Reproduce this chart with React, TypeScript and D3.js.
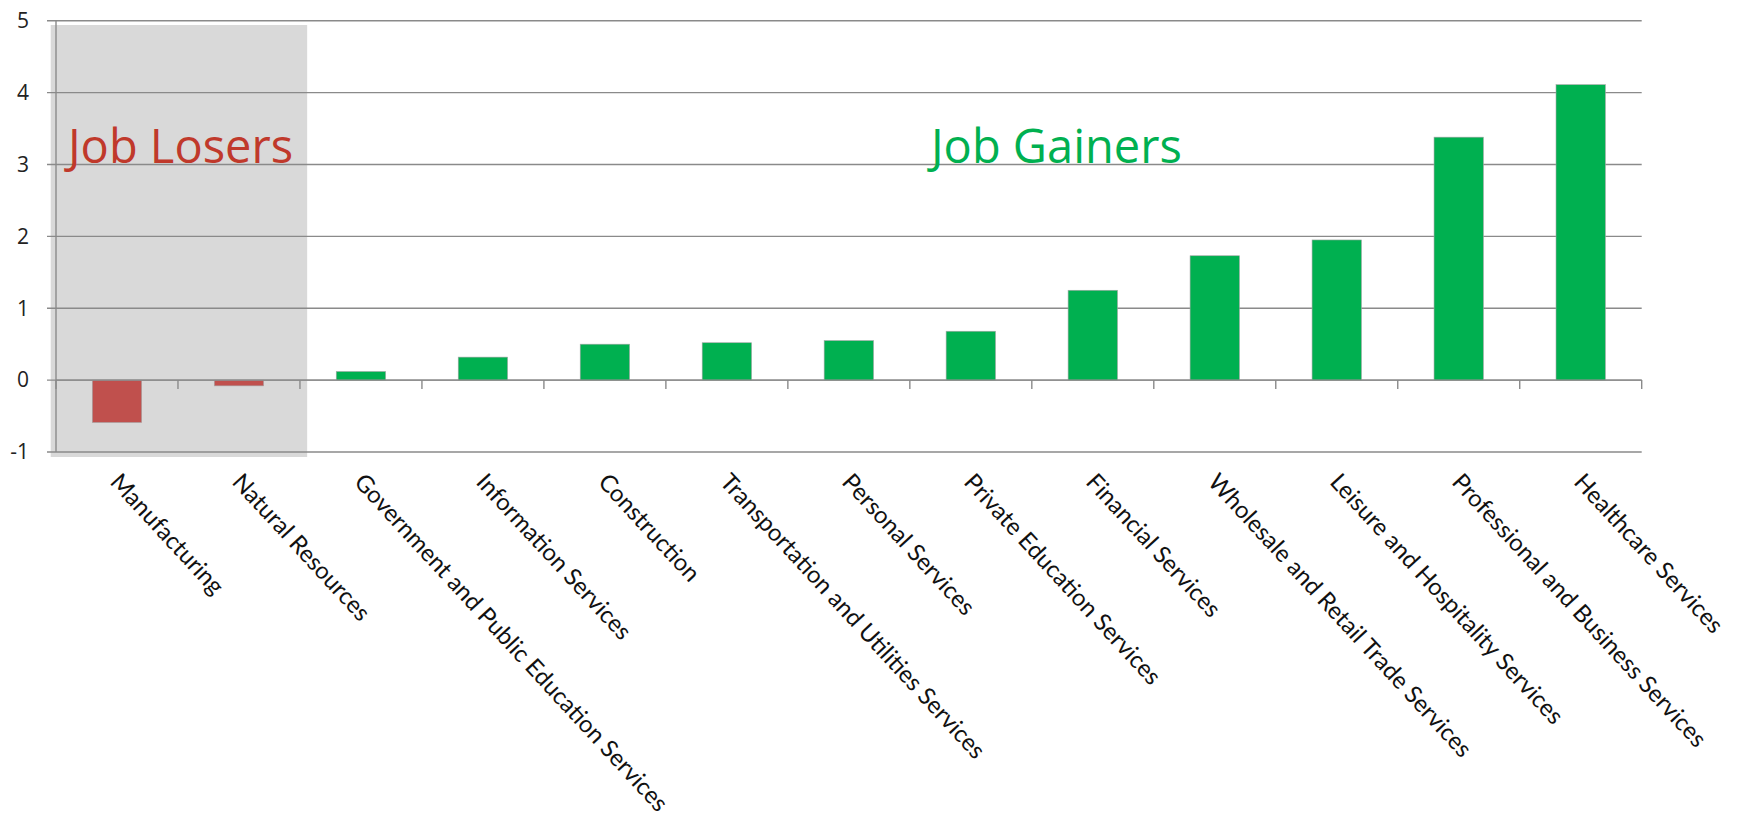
import React from "react";
import * as d3 from "d3";

const categories: string[] = [
  "Manufacturing",
  "Natural Resources",
  "Government and Public Education Services",
  "Information Services",
  "Construction",
  "Transportation and Utilities Services",
  "Personal Services",
  "Private Education Services",
  "Financial Services",
  "Wholesale and Retail Trade Services",
  "Leisure and Hospitality Services",
  "Professional and Business Services",
  "Healthcare Services",
];

const values: number[] = [-0.59, -0.08, 0.12, 0.32, 0.5, 0.52, 0.55, 0.68, 1.25, 1.73, 1.95, 3.38, 4.11];

const yTicks: number[] = [-1, 0, 1, 2, 3, 4, 5];

const W = 1740;
const H = 822;
const left = 56;
const right = 1641.7;
const yTop = 20.7;
const yBottom = 452;

export default function App() {
  const x = d3.scaleBand<string>().domain(categories).range([left, right]).padding(0);
  const y = d3.scaleLinear().domain([-1, 5]).range([yBottom, yTop]);
  const step = x.step();
  const barW = step * 0.405;
  const grid = "#8a8a8a";
  const font = "'Open Sans', 'DejaVu Sans', sans-serif";

  const losersEnd = x(categories[1])! + step;

  return (
    <svg
      width={W}
      height={H}
      style={{ position: "absolute", left: 0, top: 0, background: "#fff" }}
      fontFamily={font}
    >
      <rect x={left - 5.3} y={25} width={losersEnd - left + 12.5} height={457 - 25} fill="#d9d9d9" />

      {yTicks.map((t) => (
        <line key={"g" + t} x1={left - 9} x2={right} y1={y(t)} y2={y(t)} stroke={grid} strokeWidth={1.4} />
      ))}
      {yTicks.map((t) => (
        <text key={"yl" + t} x={29} y={y(t)} dy="0.35em" textAnchor="end" fontSize={21} fill="#222">
          {t}
        </text>
      ))}
      <line x1={left} x2={left} y1={yTop} y2={yBottom} stroke={grid} strokeWidth={1.4} />

      {categories.map((c, i) => {
        const v = values[i];
        const cx = x(c)! + step / 2;
        return (
          <rect
            key={c}
            x={cx - barW / 2}
            y={Math.min(y(v), y(0))}
            width={barW}
            height={Math.abs(y(v) - y(0))}
            fill={v < 0 ? "#c0504d" : "#00b050"}
            stroke="#a6a6a6"
            strokeWidth={0.6}
          />
        );
      })}

      <line x1={left} x2={right} y1={y(0)} y2={y(0)} stroke={grid} strokeWidth={1.4} />
      {d3.range(categories.length + 1).map((k) => {
        const xx = left + k * step;
        return <line key={"t" + k} x1={xx} x2={xx} y1={y(0)} y2={y(0) + 9} stroke={grid} strokeWidth={1.4} />;
      })}

      {categories.map((c) => {
        const cx = x(c)! + step / 2;
        return (
          <text
            key={"l" + c}
            transform={`translate(${cx - 8},${483}) rotate(47.3)`}
            fontSize={23.9}
            fontFamily="Lato, 'Open Sans', sans-serif"
            fill="#111"
          >
            {c}
          </text>
        );
      })}

      <text x={68} y={163} fontSize={47} fill="#c0392b">
        Job Losers
      </text>
      <text x={931} y={163} fontSize={47} fill="#00b050">
        Job Gainers
      </text>
    </svg>
  );
}
